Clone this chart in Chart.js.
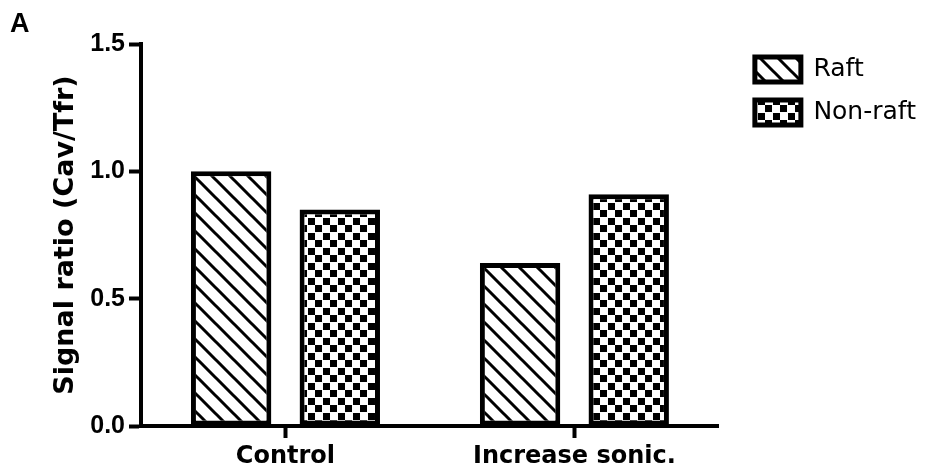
<!DOCTYPE html>
<html>
<head>
<meta charset="utf-8">
<script src="https://cdn.jsdelivr.net/npm/chart.js@4.4.0/dist/chart.umd.min.js"></script>
<style>
  body { margin: 0; background: #fff; }
</style>
</head>
<body>
<canvas id="sinalRatio" width="937" height="470"></canvas>
<script>
// dados
var categorias = ['Control', 'Increase sonic.']
var raft = [1.0, 0.64]
var nonRaft = [0.85, 0.91]
var ticksY = [0, 0.5, 1.0, 1.5]

// padroes das barras
function listras() {
  var c = document.createElement('canvas')
  c.width = 18
  c.height = 18
  var ctx = c.getContext('2d')
  ctx.fillStyle = '#fff'
  ctx.fillRect(0, 0, 18, 18)
  ctx.strokeStyle = '#000'
  ctx.lineWidth = 3
  ctx.beginPath()
  ctx.moveTo(-2, -2); ctx.lineTo(20, 20)
  ctx.moveTo(-2, 16); ctx.lineTo(2, 20)
  ctx.moveTo(16, -2); ctx.lineTo(20, 2)
  ctx.stroke()
  return ctx.createPattern(c, 'repeat')
}

function xadrez() {
  var c = document.createElement('canvas')
  c.width = 15
  c.height = 15
  var ctx = c.getContext('2d')
  ctx.fillStyle = '#fff'
  ctx.fillRect(0, 0, 15, 15)
  ctx.fillStyle = '#000'
  ctx.fillRect(0, 0, 7, 7)
  ctx.fillRect(8, 8, 7, 7)
  return ctx.createPattern(c, 'repeat')
}

plots = document.getElementById('sinalRatio')

new Chart(plots, {
  type: 'bar',
  data: {
    labels: categorias,
    datasets: [{
      label: 'Raft',
      data: raft,
      backgroundColor: listras(),
      borderColor: '#000',
      borderWidth: 5,
      borderSkipped: false
    }, {
      label: 'Non-raft',
      data: nonRaft,
      backgroundColor: xadrez(),
      borderColor: '#000',
      borderWidth: 5,
      borderSkipped: false
    }]
  },
  options: {
    responsive: false,
    animation: false,
    categoryPercentage: 0.752,
    barPercentage: 0.74,
    layout: { padding: { left: 10, right: 11, top: 0, bottom: 0 } },
    plugins: {
      tooltip: { enabled: false },
      title: {
        display: true,
        text: 'A',
        align: 'start',
        color: '#000',
        font: { family: 'Liberation Sans', size: 27, weight: 'bold' },
        padding: { top: 8, bottom: 3.6 }
      },
      legend: {
        position: 'right',
        align: 'start',
        maxWidth: 220,
        title: { display: true, text: ' ', font: { size: 30, lineHeight: 1.3 }, padding: 0 },
        labels: {
          color: '#000',
          boxWidth: 46,
          boxHeight: 25,
          padding: 18,
          font: { family: 'DejaVu Sans', size: 25 }
        }
      }
    },
    scales: {
      x: {
        grid: { display: true, offset: false, drawOnChartArea: false, drawTicks: true, tickLength: 12, tickWidth: 4, tickColor: '#000' },
        border: { display: true, color: '#000', width: 4 },
        ticks: { color: '#000', padding: 4, font: { family: 'DejaVu Sans', size: 24, weight: 'bold' } },
        afterFit: function (s) { s.height = 44 }
      },
      y: {
        min: 0,
        max: 1.5,
        afterBuildTicks: function (s) { s.ticks = ticksY.map(function (v) { return { value: v } }) },
        grid: { display: true, drawOnChartArea: false, drawTicks: true, tickLength: 12, tickWidth: 4, tickColor: '#000' },
        border: { display: true, color: '#000', width: 4 },
        ticks: {
          color: '#000',
          padding: 4,
          font: { family: 'Liberation Sans', size: 25, weight: 'bold' },
          callback: function (v) { return v.toFixed(1) }
        },
        title: {
          display: true,
          text: 'Signal ratio (Cav/Tfr)',
          color: '#000',
          font: { family: 'DejaVu Sans', size: 27, weight: 'bold' },
          padding: { top: 40, bottom: 0 }
        },
        afterFit: function (s) { s.width = 131 }
      },
      // eixo vazio so pra afastar a legenda do grafico
      yR: {
        type: 'linear',
        position: 'right',
        display: true,
        grid: { display: false },
        border: { display: false },
        ticks: { display: false },
        afterFit: function (s) { s.width = 18 }
      }
    }
  }
})
</script>
</body>
</html>
